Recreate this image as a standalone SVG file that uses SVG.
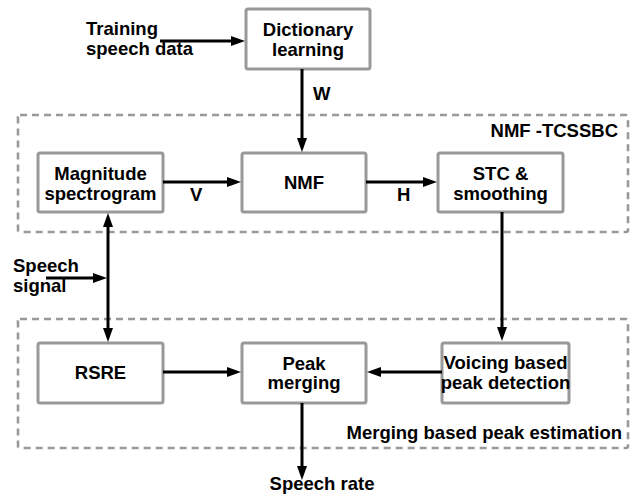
<svg xmlns="http://www.w3.org/2000/svg" width="631" height="495" viewBox="0 0 631 495">
<defs>
<style>
.box{fill:#fff;stroke:#999;stroke-width:3}
.grp{fill:none;stroke:#999;stroke-width:2.6;stroke-dasharray:7 5}
.t{font-family:"Liberation Sans",Arial,sans-serif;font-weight:bold;font-size:18.5px;fill:#000}
.c{text-anchor:middle}
.r{text-anchor:end}
.ln{stroke:#000;stroke-width:3;fill:none}
</style>
<marker id="ah" viewBox="0 0 14 10" refX="4" refY="5" markerWidth="14" markerHeight="10" markerUnits="userSpaceOnUse" orient="auto-start-reverse">
<path d="M0,0 L14,5 L0,10 z" fill="#000"/>
</marker>
</defs>
<rect width="631" height="495" fill="#fff"/>
<g id="group-nmf-tcssbc">
<rect class="grp" x="18" y="115" width="610" height="117" rx="2"/>
<text class="t r" x="618" y="137">NMF -TCSSBC</text>
</g>
<g id="group-merging">
<rect class="grp" x="18" y="319" width="610" height="129" rx="2"/>
<text class="t r" x="622" y="439">Merging based peak estimation</text>
</g>
<g id="training-data">
<text class="t" x="86" y="35">Training</text>
<text class="t" x="86" y="55">speech data</text>
</g>
<g id="speech-signal">
<text class="t" x="13" y="272">Speech</text>
<text class="t" x="13" y="292">signal</text>
</g>
<g id="speech-rate">
<text class="t c" x="322" y="490">Speech rate</text>
</g>
<g id="dictionary">
<rect class="box" x="246" y="9" width="124" height="60" rx="2"/>
<text class="t c" x="308" y="36">Dictionary</text>
<text class="t c" x="308" y="56">learning</text>
</g>
<g id="magnitude">
<rect class="box" x="38" y="153" width="125" height="59" rx="2"/>
<text class="t c" x="100.5" y="180">Magnitude</text>
<text class="t c" x="100.5" y="200">spectrogram</text>
</g>
<g id="nmf">
<rect class="box" x="242" y="153" width="124" height="59" rx="2"/>
<text class="t c" x="304" y="189">NMF</text>
</g>
<g id="stc">
<rect class="box" x="438" y="153" width="125" height="59" rx="2"/>
<text class="t c" x="500.5" y="180">STC &amp;</text>
<text class="t c" x="500.5" y="200">smoothing</text>
</g>
<g id="rsre">
<rect class="box" x="38" y="343" width="125" height="60" rx="2"/>
<text class="t c" x="100.5" y="379">RSRE</text>
</g>
<g id="peak-merging">
<rect class="box" x="242" y="343" width="124" height="60" rx="2"/>
<text class="t c" x="304" y="370">Peak</text>
<text class="t c" x="304" y="389">merging</text>
</g>
<g id="voicing">
<rect class="box" x="442" y="343" width="127" height="60" rx="2"/>
<text class="t c" x="505.5" y="369">Voicing based</text>
<text class="t c" x="505.5" y="389">peak detection</text>
</g>
<g id="connectors">
<line class="ln" x1="160" y1="41" x2="235" y2="41" marker-end="url(#ah)"/>
<line class="ln" x1="302" y1="69" x2="302" y2="142" marker-end="url(#ah)"/>
<text class="t" x="313" y="100">W</text>
<line class="ln" x1="163" y1="182" x2="231" y2="182" marker-end="url(#ah)"/>
<text class="t" x="190" y="201">V</text>
<line class="ln" x1="366" y1="182" x2="427" y2="182" marker-end="url(#ah)"/>
<text class="t" x="397" y="201">H</text>
<line class="ln" x1="502" y1="212" x2="502" y2="331" marker-end="url(#ah)"/>
<line class="ln" x1="46" y1="278" x2="97" y2="278" marker-end="url(#ah)"/>
<line class="ln" x1="108" y1="223" x2="108" y2="332" marker-start="url(#ah)" marker-end="url(#ah)"/>
<line class="ln" x1="163" y1="372" x2="231" y2="372" marker-end="url(#ah)"/>
<line class="ln" x1="442" y1="372" x2="377" y2="372" marker-end="url(#ah)"/>
<line class="ln" x1="302" y1="403" x2="302" y2="470" marker-end="url(#ah)"/>
</g>
</svg>
